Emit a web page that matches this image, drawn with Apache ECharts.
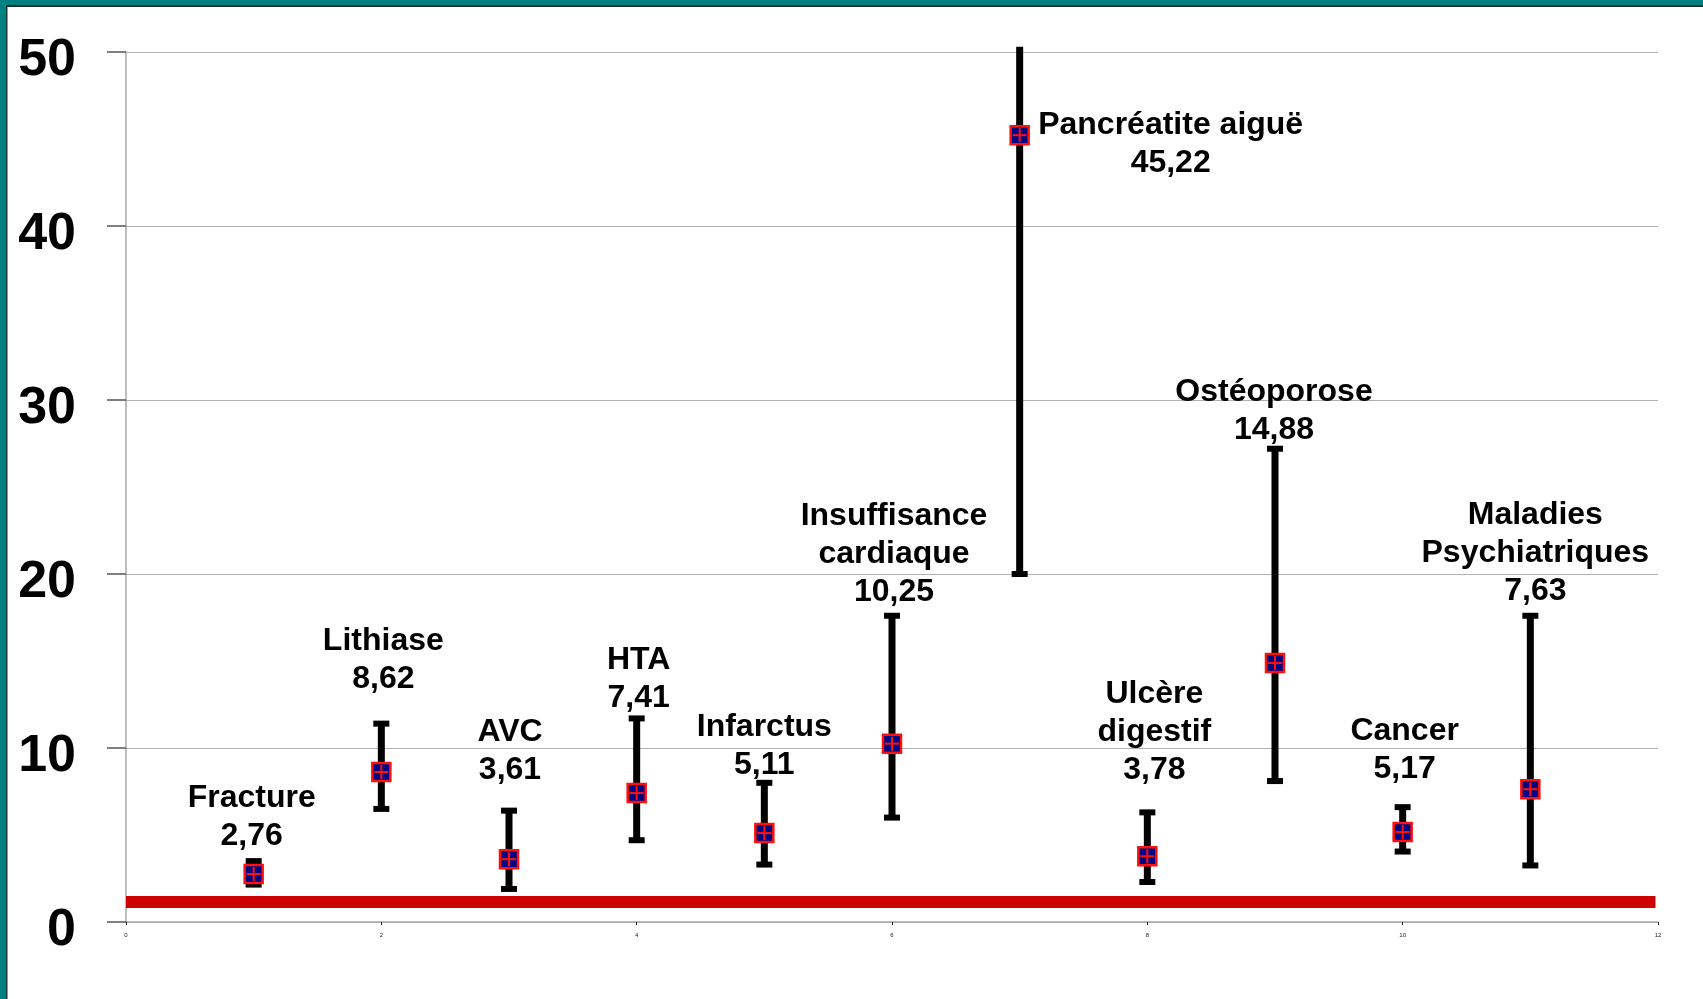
<!DOCTYPE html>
<html>
<head>
<meta charset="utf-8">
<script src="https://cdn.jsdelivr.net/npm/echarts@6/dist/echarts.min.js"></script>
<style>
html,body{margin:0;padding:0;background:#fff;}
#c{width:1703px;height:999px;}
</style>
</head>
<body>
<div id="c"></div>
<script>
// ---- data ----
const categories = ['Fracture','Lithiase','AVC','HTA','Infarctus','Insuffisance\ncardiaque','Pancréatite aiguë','Ulcère\ndigestif','Ostéoporose','Cancer','Maladies\nPsychiatriques'];
const xPositions = [1,2,3,4,5,6,7,8,9,10,11];
const oddsRatio = [2.76,8.62,3.61,7.41,5.11,10.25,45.22,3.78,14.88,5.17,7.63];
const lowerCI = [2.15,6.5,1.9,4.7,3.3,6.0,20.0,2.3,8.1,4.05,3.25];
const upperCI = [3.5,11.4,6.4,11.7,8.0,17.6,50.3,6.3,27.2,6.6,17.6];
const referenceLine = 1.15;
const xTicks = [0,2,4,6,8,10,12];
const yTicks = [0,10,20,30,40,50];

// label placement (pixel offsets from the point; layout only)
const labelOffsets = [[-2,-57],[2,-112],[1,-108],[2,-114],[0,-87],[2,-189],[151,9],[7,-124],[-1,-252],[2,-82],[5,-236]];

const yMax = yTicks[yTicks.length-1];
const fmt = v => v.toFixed(2).replace('.', ',');

const seriesData = xPositions.map((x,i)=>[x, lowerCI[i], upperCI[i], oddsRatio[i], i]);

const chart = echarts.init(document.getElementById('c'), null, {renderer:'canvas'});
chart.setOption({
  animation:false,
  backgroundColor:'#ffffff',
  graphic:[
    {type:'rect', shape:{x:0,y:0,width:1703,height:5}, style:{fill:'#008080'}, z:100},
    {type:'rect', shape:{x:0,y:5,width:1703,height:2}, style:{fill:'#1c3434'}, z:100},
    {type:'rect', shape:{x:0,y:0,width:6,height:999}, style:{fill:'#008080'}, z:100},
    {type:'rect', shape:{x:6,y:5,width:1.5,height:994}, style:{fill:'#1c3434'}, z:100}
  ],
  grid:{left:126, top:52, right:45, bottom:77, containLabel:false},
  xAxis:{
    type:'value', min:xTicks[0], max:xTicks[xTicks.length-1], interval:2,
    axisLine:{show:true, lineStyle:{color:'#a8a8a8', width:1.5}},
    axisTick:{show:true, length:3, lineStyle:{color:'#222'}},
    axisLabel:{fontSize:6, color:'#222', margin:10, fontFamily:'Liberation Sans'},
    splitLine:{show:false}
  },
  yAxis:{
    type:'value', min:yTicks[0], max:yMax, interval:10,
    axisLine:{show:true, lineStyle:{color:'#a8a8a8', width:1.5}},
    axisTick:{show:true, length:19, lineStyle:{color:'#555', width:1.5}},
    axisLabel:{margin:50, formatter:'{a|{value}}',
      rich:{a:{fontSize:52, fontWeight:'bold', color:'#000', fontFamily:'Liberation Sans', padding:[18,0,0,0]}}},
    splitLine:{show:true, lineStyle:{color:'#b0b0b0', width:1.2}}
  },
  series:[
    {
      type:'line', data:[], silent:true,
      markLine:{
        symbol:'none', silent:true, label:{show:false},
        lineStyle:{color:'#cc0000', width:12, type:'solid'},
        data:[[{coord:[xTicks[0],referenceLine]},{coord:[xTicks[xTicks.length-1]-0.02,referenceLine]}]]
      },
      z:1
    },
    {
      type:'custom', z:5, clip:false,
      data:seriesData,
      renderItem:function(params, api){
        const x = api.value(0), lo = api.value(1), hi = api.value(2), v = api.value(3), i = api.value(4);
        const pLo = api.coord([x, lo]);
        const pHi = api.coord([x, hi]);
        const p = api.coord([x, v]);
        const children = [];
        children.push({type:'line', shape:{x1:pLo[0],y1:pLo[1],x2:pHi[0],y2:pHi[1]}, style:{stroke:'#000', lineWidth:7}});
        children.push({type:'line', shape:{x1:pLo[0]-8,y1:pLo[1],x2:pLo[0]+8,y2:pLo[1]}, style:{stroke:'#000', lineWidth:6}});
        if (hi <= yMax) {
          children.push({type:'line', shape:{x1:pHi[0]-8,y1:pHi[1],x2:pHi[0]+8,y2:pHi[1]}, style:{stroke:'#000', lineWidth:6}});
        }
        const s = 18;
        children.push({type:'rect', shape:{x:p[0]-s/2,y:p[1]-s/2,width:s,height:s}, style:{fill:'#000080', stroke:'#ff1010', lineWidth:2.5}});
        children.push({type:'line', shape:{x1:p[0]-s/2+2,y1:p[1],x2:p[0]+s/2-2,y2:p[1]}, style:{stroke:'#ff1010', lineWidth:2}});
        children.push({type:'line', shape:{x1:p[0],y1:p[1]-s/2+2,x2:p[0],y2:p[1]+s/2-2}, style:{stroke:'#ff1010', lineWidth:2}});
        const off = labelOffsets[i];
        children.push({type:'text', x:p[0]+off[0], y:p[1]+off[1],
          style:{text:categories[i]+'\n'+fmt(v), fill:'#000', font:'bold 32px "Liberation Sans", Arial, sans-serif',
            align:'center', verticalAlign:'middle', lineHeight:38}});
        return {type:'group', children:children};
      }
    }
  ]
});
</script>
</body>
</html>
